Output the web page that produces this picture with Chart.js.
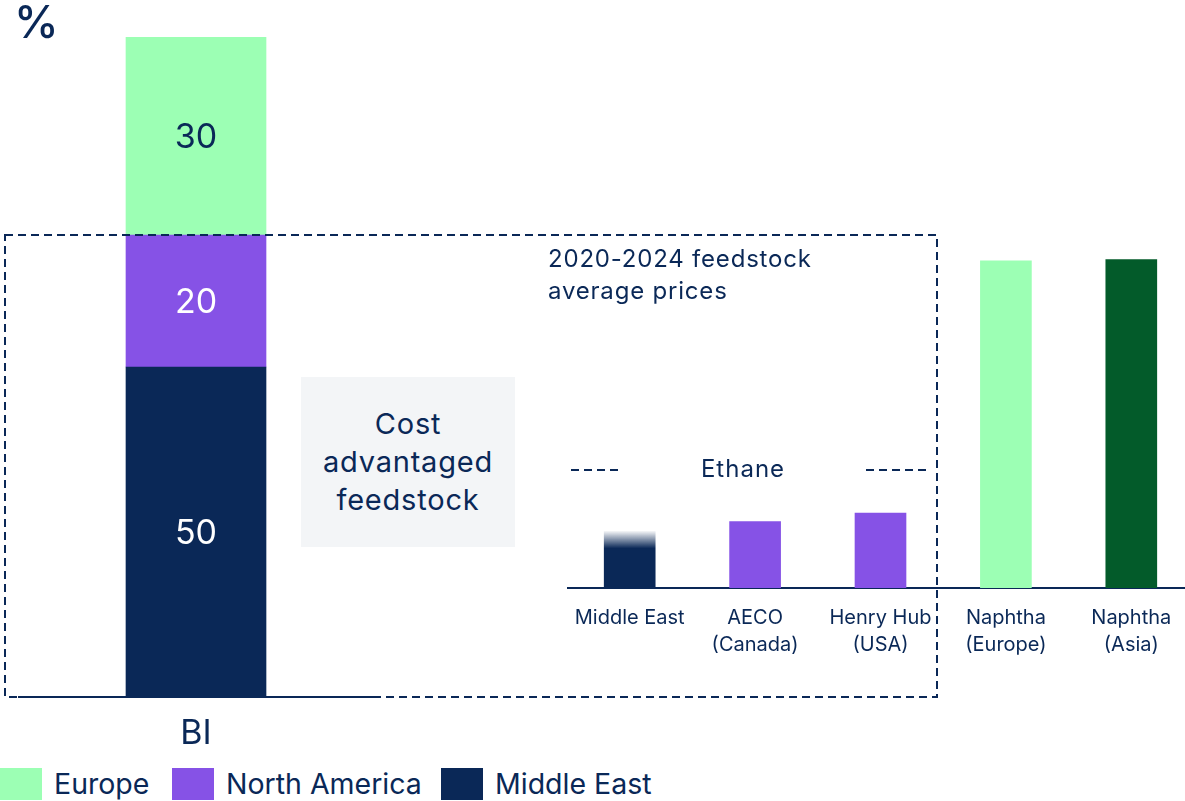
<!DOCTYPE html>
<html>
<head>
<meta charset="utf-8">
<script src="https://cdn.jsdelivr.net/npm/chart.js@4.4.1/dist/chart.umd.min.js"></script>
<style>
html,body{margin:0;padding:0;width:1185px;height:801px;overflow:hidden;background:#fff;font-family:Inter,"Noto Sans",sans-serif;color:#0a2857;}
.abs{position:absolute;}
#left{left:18px;top:37px;width:356px;height:723px;}
#right{left:567px;top:188px;width:627px;height:472px;}
#pct{left:14px;top:0px;font-size:45px;line-height:44px;font-weight:500;}
#note{left:548px;top:243px;font-size:24px;line-height:32px;letter-spacing:0.8px;}
#cost{left:301px;top:377px;width:214px;height:170px;background:#f3f5f7;display:flex;align-items:center;justify-content:center;text-align:center;font-size:29px;line-height:38px;letter-spacing:0.8px;}
#ethane{left:683px;top:455px;width:120px;text-align:center;font-size:24px;line-height:28px;letter-spacing:1px;}
#overlay{left:0;top:0;width:1185px;height:801px;pointer-events:none;z-index:5;}
.lg{position:absolute;top:768px;height:32px;display:flex;align-items:center;font-size:28.5px;line-height:32px;}
.sw{width:42px;height:32px;margin-right:12px;}
</style>
</head>
<body>
<div id="cost" class="abs">Cost<br>advantaged<br>feedstock</div>
<div id="left" class="abs"><canvas id="c1"></canvas></div>
<div id="right" class="abs"><canvas id="c2"></canvas></div>
<div id="pct" class="abs">%</div>
<div id="note" class="abs">2020-2024 feedstock<br>average prices</div>
<div id="ethane" class="abs">Ethane</div>
<svg id="overlay" class="abs" width="1185" height="801">
  <rect x="5" y="235" width="932" height="462" fill="none" stroke="#0a2857" stroke-width="2" stroke-dasharray="8 5"/>
  <line x1="571" y1="470" x2="622" y2="470" stroke="#0a2857" stroke-width="2" stroke-dasharray="8 5"/>
  <line x1="866" y1="470" x2="931" y2="470" stroke="#0a2857" stroke-width="2" stroke-dasharray="8 5"/>
</svg>
<div id="legend"></div>
<script>
// ---- Data ----
const biCategories = ['BI'];
const shareSeries = ['Middle East', 'North America', 'Europe'];
const shareMiddleEast = [50];
const shareNorthAmerica = [20];
const shareEurope = [30];

const feedstockLabels = [['Middle East'], ['AECO', '(Canada)'], ['Henry Hub', '(USA)'], ['Naphtha', '(Europe)'], ['Naphtha', '(Asia)']];
const feedstockPrices = [2.65, 3.1, 3.5, 15.3, 15.35];

const legendLabels = ['Europe', 'North America', 'Middle East'];

// ---- Styles ----
const NAVY = '#0a2857', PURPLE = '#8652e6', LGREEN = '#9cffb4', DGREEN = '#035b2a';
Chart.defaults.font.family = 'Inter, "Noto Sans", sans-serif';
Chart.defaults.color = NAVY;

const segLabels = {
  id: 'segLabels',
  afterDatasetsDraw(chart) {
    const ctx = chart.ctx;
    chart.data.datasets.forEach((ds, i) => {
      const meta = chart.getDatasetMeta(i);
      meta.data.forEach((bar, j) => {
        const p = bar.getProps(['x', 'y', 'base'], true);
        ctx.save();
        ctx.fillStyle = ds.labelColor;
        ctx.font = '34px Inter, "Noto Sans", sans-serif';
        ctx.textAlign = 'center';
        ctx.textBaseline = 'middle';
        ctx.fillText(String(ds.data[j]), p.x, (p.y + p.base) / 2 + 2);
        ctx.restore();
      });
    });
  }
};

function noPad(s, h) {
  s.height = h;
  s.paddingLeft = 0; s.paddingRight = 0; s.paddingTop = 0; s.paddingBottom = 0;
}

new Chart(document.getElementById('c1'), {
  type: 'bar',
  data: {
    labels: biCategories,
    datasets: [
      { label: shareSeries[0], data: shareMiddleEast, backgroundColor: NAVY, labelColor: '#ffffff' },
      { label: shareSeries[1], data: shareNorthAmerica, backgroundColor: PURPLE, labelColor: '#ffffff' },
      { label: shareSeries[2], data: shareEurope, backgroundColor: LGREEN, labelColor: NAVY }
    ]
  },
  options: {
    responsive: true, maintainAspectRatio: false, animation: false,
    layout: { padding: 0 },
    barThickness: 140,
    plugins: { legend: { display: false }, tooltip: { enabled: false } },
    scales: {
      x: {
        stacked: true,
        grid: { display: false, drawTicks: false },
        border: { display: true, color: NAVY, width: 2 },
        ticks: { font: { size: 34 }, color: NAVY, padding: 16 },
        afterFit: (s) => noPad(s, 63)
      },
      y: { stacked: true, display: false, min: 0, max: 100 }
    }
  },
  plugins: [segLabels]
});

function meColor(context) {
  const chart = context.chart;
  if (context.dataIndex !== 0) {
    return [null, PURPLE, PURPLE, LGREEN, DGREEN][context.dataIndex];
  }
  if (!chart.chartArea) return NAVY;
  const top = chart.scales.y.getPixelForValue(context.raw);
  const g = chart.ctx.createLinearGradient(0, top, 0, top + 17);
  g.addColorStop(0, 'rgba(10,40,87,0.05)');
  g.addColorStop(1, NAVY);
  return g;
}

new Chart(document.getElementById('c2'), {
  type: 'bar',
  data: {
    labels: feedstockLabels,
    datasets: [{ label: 'Feedstock price', data: feedstockPrices, backgroundColor: meColor }]
  },
  options: {
    responsive: true, maintainAspectRatio: false, animation: false,
    layout: { padding: 0 },
    barThickness: 51,
    plugins: { legend: { display: false }, tooltip: { enabled: false } },
    scales: {
      x: {
        grid: { display: false, drawTicks: false },
        border: { display: true, color: NAVY, width: 2 },
        ticks: { font: { size: 20, lineHeight: 1.35 }, color: NAVY, padding: 16, autoSkip: false, maxRotation: 0 },
        afterFit: (s) => noPad(s, 72)
      },
      y: { display: false, min: 0, max: 18.7 }
    }
  }
});

// ---- HTML legend ----
const legendColors = [LGREEN, PURPLE, NAVY];
const legendLeft = [0, 172, 441];
const lg = document.getElementById('legend');
legendLabels.forEach((t, i) => {
  const d = document.createElement('div');
  d.className = 'lg';
  d.style.left = legendLeft[i] + 'px';
  d.innerHTML = '<span class="sw" style="background:' + legendColors[i] + '"></span><span>' + t + '</span>';
  lg.appendChild(d);
});
</script>
</body>
</html>
